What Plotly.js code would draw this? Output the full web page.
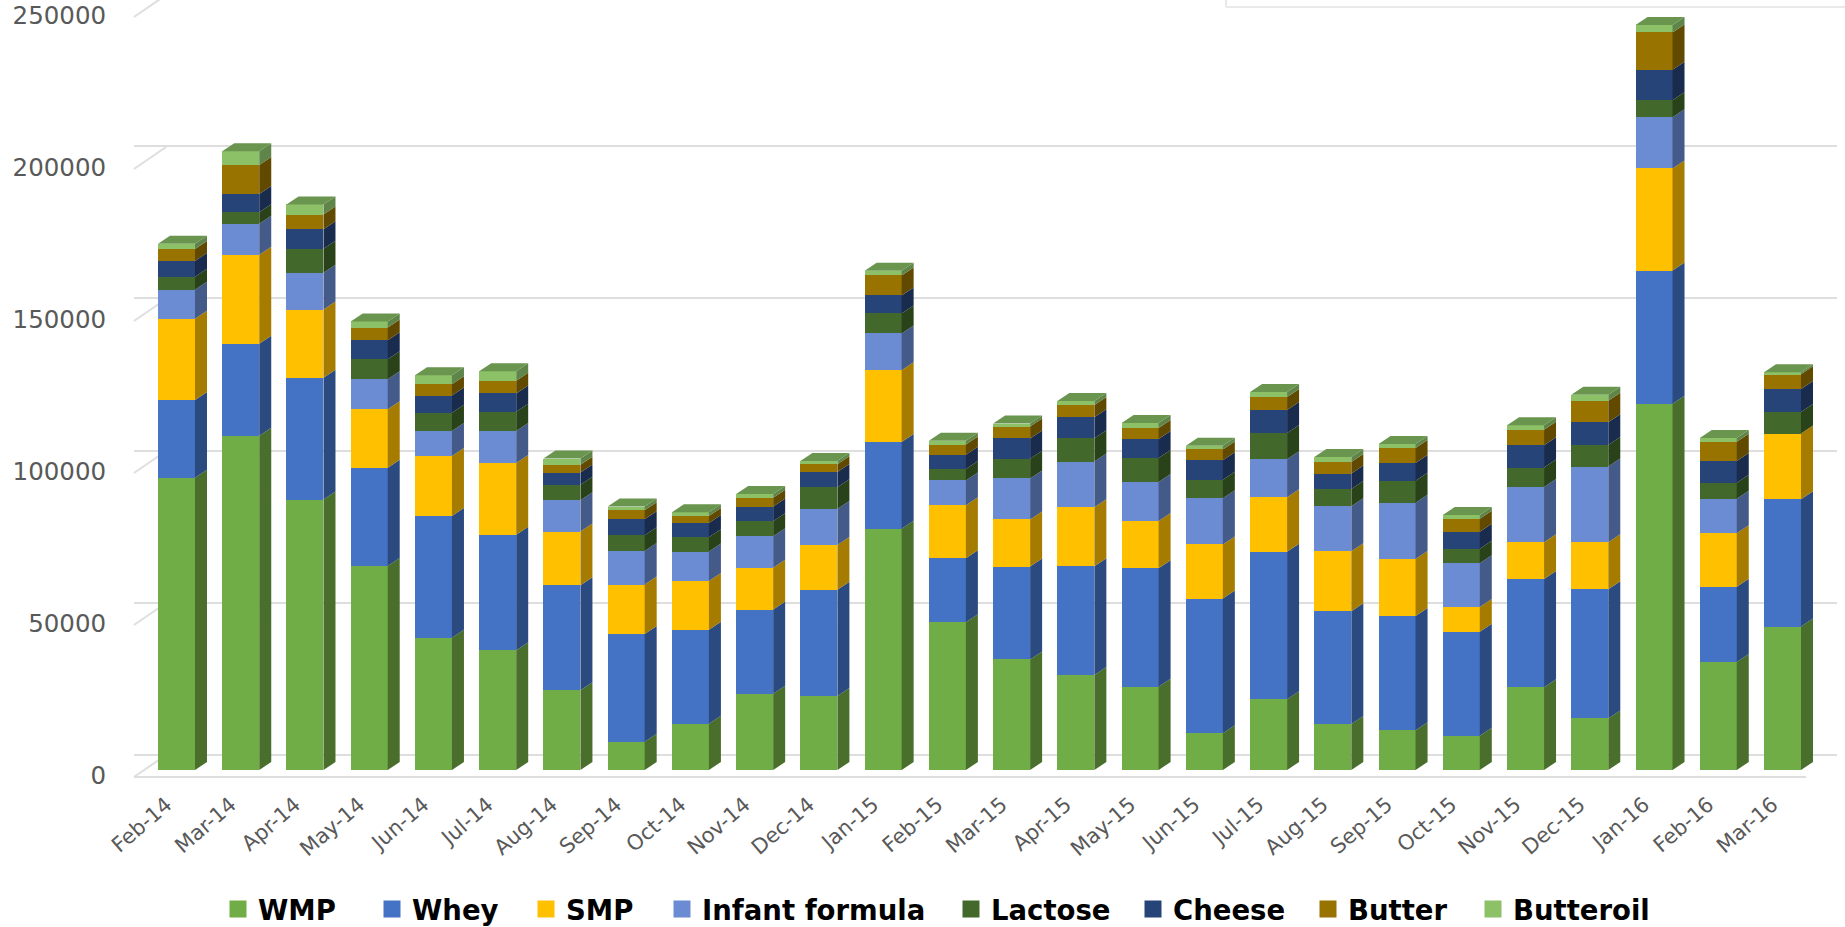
<!DOCTYPE html>
<html>
<head>
<meta charset="utf-8">
<script src="https://cdn.plot.ly/plotly-3.0.1.min.js"></script>
<style>html,body{margin:0;padding:0;background:#fff}</style>
</head>
<body>
<div id="chart" style="width:1845px;height:927px"></div>
<script>
// Monthly dairy export volumes by product, stacked, Feb-14 to Mar-16.
const months = ["Feb-14","Mar-14","Apr-14","May-14","Jun-14","Jul-14","Aug-14","Sep-14","Oct-14","Nov-14","Dec-14",
  "Jan-15","Feb-15","Mar-15","Apr-15","May-15","Jun-15","Jul-15","Aug-15","Sep-15","Oct-15","Nov-15","Dec-15",
  "Jan-16","Feb-16","Mar-16"];

const wmp       = [96000,109800,88800,67000,43450,39300,26170,9300,15200,25080,24300,79250,48500,36300,31160,27380,12050,23200,15100,13030,11280,27160,16940,120300,35500,47100];
const whey      = [25500,30200,40000,32300,40000,37950,34500,35400,30900,27600,34930,28500,21000,30500,35730,38840,44270,48500,37000,37560,34160,35590,42400,43700,24680,41780];
const smp       = [26700,29200,22400,19200,19700,23600,17630,16200,16000,13700,14670,23500,17470,15470,19370,15580,17770,17850,19700,18700,8100,12050,15480,33550,17580,21600];
const infant    = [9500,10200,12100,9800,8200,10500,10300,11060,9640,10400,11830,12130,8120,13470,15030,12800,15120,12480,14800,18500,14340,18180,24840,16780,11290,0];
const lactose   = [4300,3750,7900,6600,6000,6300,5040,5150,4700,4930,7120,6570,3780,6460,7680,7900,6120,8650,5700,7230,4820,6350,7100,5650,5320,7100];
const cheese    = [5200,6000,6400,6200,5600,6000,4050,5260,4700,4820,5040,5900,4670,6680,6900,6230,6400,7560,5040,5800,5580,7340,7420,10000,7100,7580];
const butter    = [3900,9500,4800,4200,3750,4200,2520,2960,2300,2850,2520,6570,3340,3900,4000,3560,3530,4270,3830,4930,4270,5040,7100,12260,6290,4840];
const butteroil = [1750,4550,3350,2000,2950,3100,2080,1200,1200,1300,1100,1560,1220,1000,1340,1670,1210,1640,1640,1310,1200,1530,1940,2420,1290,650];

const seriesNames  = ["WMP","Whey","SMP","Infant formula","Lactose","Cheese","Butter","Butteroil"];
const seriesValues = [wmp,whey,smp,infant,lactose,cheese,butter,butteroil];
const frontColors  = ["#70AD47","#4472C4","#FFC000","#6B8CD3","#43682B","#264478","#997300","#8CC168"];
const sideColors   = ["#4A6E2C","#2A4A80","#A67C00","#445A88","#2A421A","#192C4E","#614900","#5F854A"];
const topColor     = "#6A954E";
const yTicks       = [0,50000,100000,150000,200000,250000];
const legendTextLeft = [258,412,566,702,991,1173,1348,1513];

// Plot frame and the oblique depth of the bars, expressed in axis units.
const W = 1845, H = 927, marginL = 134, marginR = 8, plotH = 782;
const plotW = W - marginL - marginR;
const pitch = 64.24, firstCentre = 176.5;
const barWidth = 37 / pitch;
const depthX = 12 / pitch;
const pxPerUnit = 0.003045;
const depthY = 8 / pxPerUnit;
const xRange = [(marginL - firstCentre) / pitch, (W - marginR - firstCentre) / pitch];
const rangeFor = (zeroPx, k) => [(zeroPx - plotH) / k, zeroPx / k];
const idx = months.map((_, i) => i);
const legendKey = s => s === 0 ? "legend" : "legend" + (s + 1);

const traces = [];

// Front faces
seriesNames.forEach((name, s) => {
  traces.push({
    type: "bar", name, x: idx, y: seriesValues[s], width: barWidth,
    marker: {color: frontColors[s], line: {width: 0}},
    legendgroup: name, showlegend: false,
    customdata: months,
    hovertemplate: "%{customdata}<br>" + name + ": %{y}<extra></extra>"
  });
});

// Legend keys, one small legend per product so each entry can be placed on its own
seriesNames.forEach((name, s) => {
  traces.push({
    type: "bar", name, x: [-5], y: [0],
    marker: {color: frontColors[s], line: {width: 5, color: frontColors[s]}},
    legend: legendKey(s), legendgroup: name, showlegend: true, hoverinfo: "skip"
  });
});

// Right-hand faces, one filled parallelogram per stacked segment
const running = months.map(() => 0);
seriesNames.forEach((name, s) => {
  const px = [], py = [];
  idx.forEach(i => {
    const lo = running[i], hi = lo + seriesValues[s][i];
    const r = i + barWidth / 2;
    px.push(r, r + depthX, r + depthX, r, r, null);
    py.push(lo, lo + depthY, hi + depthY, hi, lo, null);
    running[i] = hi;
  });
  traces.push({
    type: "scatter", mode: "lines", x: px, y: py, fill: "toself",
    fillcolor: sideColors[s], line: {width: 0, color: sideColors[s]},
    legendgroup: name, showlegend: false, hoverinfo: "skip"
  });
});

// Top caps of the stacks
const capX = [], capY = [];
idx.forEach(i => {
  const l = i - barWidth / 2, r = i + barWidth / 2, t = running[i];
  capX.push(l, r, r + depthX, l + depthX, l, null);
  capY.push(t, t, t + depthY, t + depthY, t, null);
});
traces.push({
  type: "scatter", mode: "lines", x: capX, y: capY, fill: "toself",
  fillcolor: topColor, line: {width: 0, color: topColor},
  legendgroup: "Butteroil", showlegend: false, hoverinfo: "skip"
});

// Empty trace that brings the back-wall subplot and its gridlines into being
traces.push({
  type: "scatter", mode: "lines", xaxis: "x2", yaxis: "y3", x: [0], y: [0],
  showlegend: false, hoverinfo: "skip", line: {width: 0}
});

// Floor line in front and the receding wall edges beside the value axis
const gridColor = "#DEDEDE";
const labelScale = 0.00304;
const wallRise = 22 / labelScale;
const wallX = 32 / plotW;
const shapes = [{
  type: "line", layer: "below", xref: "paper", yref: "y2",
  x0: 0, x1: (1806 - marginL) / plotW, y0: 0, y1: 0,
  line: {color: gridColor, width: 2}
}];
yTicks.forEach(v => shapes.push({
  type: "line", layer: "below", xref: "paper", yref: "y2",
  x0: 0, x1: wallX, y0: v, y1: v + wallRise,
  line: {color: gridColor, width: 2}
}));
// Frame of the panel that sits above the chart at the top right
const frameLeft = (1226 - marginL) / plotW, frameRight = (W - marginL) / plotW;
const frameY = 1 - 7 / plotH;
shapes.push({type: "line", layer: "below", xref: "paper", yref: "paper", x0: frameLeft, x1: frameRight, y0: frameY, y1: frameY, line: {color: "#E2E2E2", width: 1.5}});
shapes.push({type: "line", layer: "below", xref: "paper", yref: "paper", x0: frameLeft, x1: frameLeft, y0: frameY, y1: 1, line: {color: "#E2E2E2", width: 1.5}});

const layout = {
  width: W, height: H,
  margin: {l: marginL, r: marginR, t: 0, b: H - plotH, pad: 0},
  paper_bgcolor: "#fff", plot_bgcolor: "rgba(0,0,0,0)",
  barmode: "stack", showlegend: true,
  shapes,
  font: {family: "'DejaVu Sans', sans-serif", color: "#595959"},
  xaxis: {
    range: xRange, tickmode: "array", tickvals: idx, ticktext: months, tickangle: -41,
    tickfont: {family: "'DejaVu Sans', sans-serif", size: 21, color: "#595959"},
    ticks: "outside", ticklen: 1, tickcolor: "rgba(0,0,0,0)", ticklabelshift: -10,
    showgrid: false, zeroline: false, showline: false, fixedrange: true
  },
  yaxis: {
    range: rangeFor(770, pxPerUnit), showticklabels: false, ticks: "",
    showgrid: false, zeroline: false, showline: false, fixedrange: true
  },
  yaxis2: {
    overlaying: "y", side: "left", anchor: "x",
    range: rangeFor(777, labelScale), tickmode: "array", tickvals: yTicks,
    ticktext: yTicks.map(String),
    tickfont: {family: "'DejaVu Sans', sans-serif", size: 24.5, color: "#595959"},
    ticks: "outside", ticklen: 22, tickcolor: "rgba(0,0,0,0)", ticklabelshift: -2,
    showgrid: false, zeroline: false, showline: false, fixedrange: true
  },
  // Value gridlines on the back wall, offset up and to the right of the front plane
  xaxis2: {
    overlaying: "x", anchor: "y3", domain: [wallX, 1], range: xRange,
    visible: false, fixedrange: true
  },
  yaxis3: {
    overlaying: "y", anchor: "x2", side: "left",
    range: rangeFor(755, 0.003044), tickmode: "array", tickvals: yTicks,
    showticklabels: false, ticks: "",
    showgrid: true, gridcolor: gridColor, gridwidth: 2,
    zeroline: false, showline: false, fixedrange: true
  },
  hovermode: "closest"
};

seriesNames.forEach((name, s) => {
  layout[legendKey(s)] = {
    orientation: "h", traceorder: "normal",
    x: (legendTextLeft[s] - 40 - marginL) / plotW, xanchor: "left",
    yref: "container", y: (H - 909) / H, yanchor: "middle",
    font: {family: "'DejaVu Sans', sans-serif", size: 27.5, color: "#000", weight: 700},
    bgcolor: "rgba(0,0,0,0)"
  };
});

Plotly.newPlot("chart", traces, layout, {displayModeBar: false});
</script>
</body>
</html>
